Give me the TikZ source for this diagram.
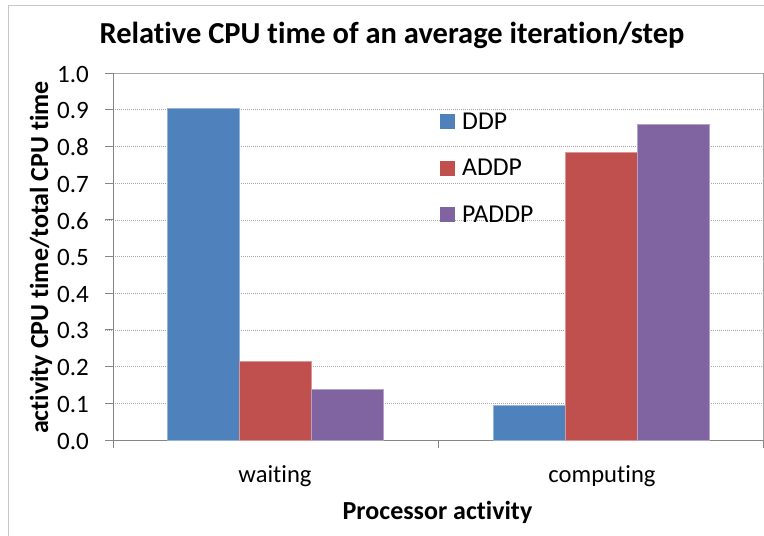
\documentclass[tikz,border=0pt]{standalone}
\usepackage{fontspec}
\setmainfont{Carlito}[Ligatures={NoCommon,NoContextual}]
\begin{document}
\begin{tikzpicture}[x=1pt,y=-1pt,
  axisline/.style={draw=black!48,line width=0.9pt},
  gridline/.style={draw=black!35,line width=0.6pt,dash pattern=on 1pt off 1pt},
  bar/.style={line width=0.7pt},
  ddp/.style={bar,fill=ddpc,draw=ddpc!60!white},
  addp/.style={bar,fill=addpc,draw=addpc!60!white},
  paddp/.style={bar,fill=paddpc,draw=paddpc!60!white},
  ticklab/.style={anchor=east,font=\fontsize{25}{27}\selectfont,inner sep=0pt},
  catlab/.style={anchor=base,font=\fontsize{24.6}{27}\selectfont,inner sep=0pt},
  leglab/.style={anchor=base west,font=\fontsize{25.7}{28}\selectfont,inner sep=0pt},
  boldlab/.style={anchor=base,font=\bfseries\fontsize{26}{28}\selectfont,inner sep=0pt}]
\definecolor{ddpc}{HTML}{4F81BD}
\definecolor{addpc}{HTML}{C0504D}
\definecolor{paddpc}{HTML}{8064A2}
\useasboundingbox (0,0) rectangle (764,536);
\fill[white] (0,0) rectangle (764,536);
% outer chart frame
\draw[draw=black!22,line width=1pt] (8,560) -- (8,5) -- (790,5);
% title
\node[anchor=base,font=\bfseries\fontsize{30.5}{33}\selectfont,inner sep=0pt] (title) at (392,43) {Relative CPU time of an average iteration/step};
% gridlines every 0.1 (plot height 367 for 1.0)
\foreach \v in {1,...,9}{
  \draw[gridline] (105,{440-36.7*\v}) -- (763,{440-36.7*\v});
}
% plot frame
\draw[draw=black!35,line width=0.8pt] (113,73) -- (763,73) -- (763,440);
\draw[axisline] (113,73) -- (113,448);
\draw[axisline] (105,440) -- (763,440);
\draw[axisline] (105,73) -- (113,73);
\foreach \v in {1,...,9}{
  \draw[axisline] (105,{440-36.7*\v}) -- (113,{440-36.7*\v});
}
\draw[axisline] (438,440) -- (438,448);
\draw[axisline] (763,440) -- (763,448);
% tick labels
\foreach \v/\t in {0/0.0,1/0.1,2/0.2,3/0.3,4/0.4,5/0.5,6/0.6,7/0.7,8/0.8,9/0.9,10/1.0}{
  \node[ticklab] (tick\v) at (89,{441-36.7*\v}) {\t};
}
% bars: waiting
\filldraw[ddp]   (167,440) rectangle (239,{440-367*0.905});
\filldraw[addp]  (239,440) rectangle (311,{440-367*0.215});
\filldraw[paddp] (311,440) rectangle (383,{440-367*0.138});
% bars: computing
\filldraw[ddp]   (493,440) rectangle (565,{440-367*0.095});
\filldraw[addp]  (565,440) rectangle (637,{440-367*0.783});
\filldraw[paddp] (637,440) rectangle (709,{440-367*0.861});
% category labels
\node[catlab] (waiting) at (275,482) {waiting};
\node[catlab] (computing) at (602,482) {computing};
\node[boldlab] (xlabel) at (437.5,519) {Processor activity};
\node[boldlab,rotate=90] (ylabel) at (48,257.5) {activity CPU time/total CPU time};
% legend
\fill[ddpc]   (440,114) rectangle (455,129);
\fill[addpc]  (440,161) rectangle (455,176);
\fill[paddpc] (440,207) rectangle (455,222);
\node[leglab] (lddp) at (462,129) {DDP};
\node[leglab] (laddp) at (462,175) {ADDP};
\node[leglab] (lpaddp) at (462,222) {PADDP};
\end{tikzpicture}
\end{document}
